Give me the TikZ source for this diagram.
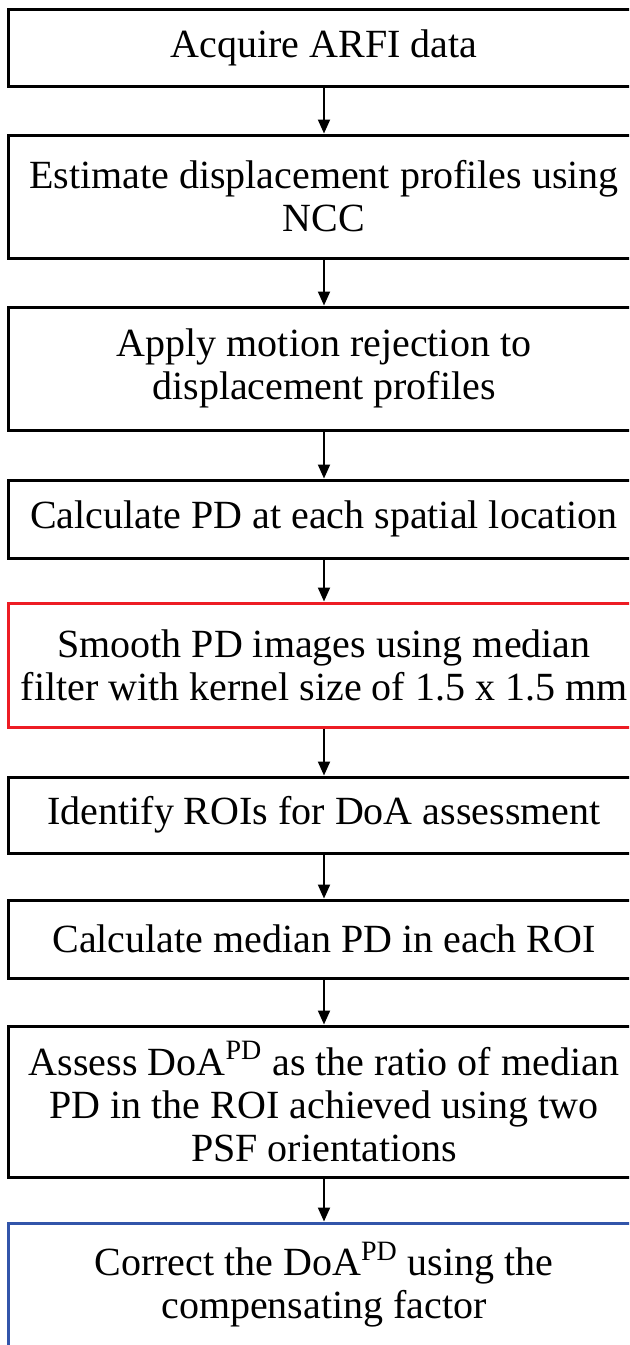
\documentclass[tikz,border=0pt]{standalone}
\usepackage{fontspec}
\setmainfont{Liberation Serif}
\usetikzlibrary{arrows.meta}
\definecolor{boxred}{RGB}{237,28,36}
\definecolor{boxblue}{RGB}{50,85,170}

\begin{document}
\begin{tikzpicture}[x=0.5pt,y=-0.5pt,
    stepbox/.style={draw, line width=1.5pt, align=flush center, text width=316pt,
      minimum width=316pt, inner sep=0pt,
      font=\fontsize{20}{21.5}\selectfont},
    flow/.style={-{Triangle[width=6pt,length=7pt]}, line width=1pt}]
    % Page frame
    \clip (0,0) rectangle (629,1345);
    % Steps
    \node[stepbox, minimum height=38.5pt] (acq) at (324,47.5) {Acquire ARFI data};
    \node[stepbox, minimum height=61.5pt] (ncc) at (324,196.5)
      {Estimate displacement profiles using\\NCC};
    \node[stepbox, minimum height=61.5pt] (rej) at (324,368.5)
      {Apply motion rejection to\\displacement profiles};
    \node[stepbox, minimum height=39pt] (pd) at (324,519)
      {Calculate PD at each spatial location};
    \node[stepbox, draw=boxred, minimum height=62pt] (smooth) at (324,665)
      {Smooth PD images using median\\filter with kernel size of 1.5 x 1.5 mm};
    \node[stepbox, minimum height=38pt, minimum width=313pt] (roi) at (324,815)
      {Identify ROIs for DoA assessment};
    \node[stepbox, minimum height=39pt, minimum width=311pt] (med) at (324,939)
      {Calculate median PD in each ROI};
    \node[stepbox, minimum height=75.5pt] (doa) at (324,1101.5)
      {Assess DoA\textsuperscript{PD} as the ratio of median\\PD in the ROI achieved using two\\PSF orientations};
    \node[stepbox, draw=boxblue, minimum height=61.5pt] (corr) at (324,1284.5)
      {Correct the DoA\textsuperscript{PD} using the\\compensating factor};
    % Connectors
    \draw[flow] (acq) -- (ncc);
    \draw[flow] (ncc) -- (rej);
    \draw[flow] (rej) -- (pd);
    \draw[flow] (pd) -- (smooth);
    \draw[flow] (smooth) -- (roi);
    \draw[flow] (roi) -- (med);
    \draw[flow] (med) -- (doa);
    \draw[flow] (doa) -- (corr);
\end{tikzpicture}
\end{document}
